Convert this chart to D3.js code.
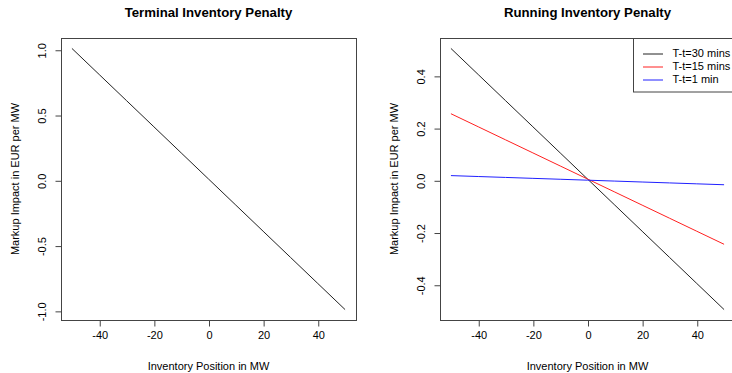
<!DOCTYPE html>
<html>
<head>
<meta charset="utf-8">
<script src="https://cdn.jsdelivr.net/npm/d3@7"></script>
<style>
  html, body { margin: 0; padding: 0; background: #fff; }
  svg { display: block; }
  text { font-family: "Liberation Sans", Arial, sans-serif; fill: #000; }
</style>
</head>
<body>
<svg id="chart" width="732" height="373"></svg>
<script>
// Inventory positions (MW)
const inventory = [-50, -40, -30, -20, -10, 0, 10, 20, 30, 40, 50];

// Terminal penalty: markup impact (EUR per MW)
const terminalImpact = [1.01, 0.81, 0.61, 0.41, 0.21, 0.01, -0.19, -0.39, -0.59, -0.79, -0.99];

// Running penalty by time to delivery
const running30 = [0.505, 0.405, 0.305, 0.205, 0.105, 0.005, -0.095, -0.195, -0.295, -0.395, -0.495];
const running15 = [0.255, 0.205, 0.155, 0.105, 0.055, 0.005, -0.045, -0.095, -0.145, -0.195, -0.245];
const running1  = [0.018, 0.0145, 0.011, 0.0075, 0.004, 0.0005, -0.003, -0.0065, -0.010, -0.0135, -0.017];

const runningLabels = ["T-t=30 mins", "T-t=15 mins", "T-t=1 min"];
const runningColors = ["#222222", "#ff2020", "#2020ff"];

const xTicks = [-40, -20, 0, 20, 40];
const yTicksTerminal = [1.0, 0.5, 0.0, -0.5, -1.0];
const yTicksRunning = [0.4, 0.2, 0.0, -0.2, -0.4];

const titles = ["Terminal Inventory Penalty", "Running Inventory Penalty"];
const xTitle = "Inventory Position in MW";
const yTitle = "Markup Impact in EUR per MW";

const svg = d3.select("#chart");

// R-style axis range: data extent padded by 4% on each side
function padded(extent) {
  const d = extent[1] - extent[0];
  return [extent[0] - 0.04 * d, extent[1] + 0.04 * d];
}

function panel(opts) {
  const { left, right, top, bottom, series, yTicks, title } = opts;
  const g = svg.append("g");

  const allY = series.flatMap(s => s.values);
  const x = d3.scaleLinear().domain(padded(d3.extent(inventory))).range([left, right]);
  const y = d3.scaleLinear().domain(padded(d3.extent(allY))).range([bottom, top]);

  // title
  g.append("text")
    .attr("x", (left + right) / 2).attr("y", 17)
    .attr("text-anchor", "middle")
    .style("font-size", "13.2px").style("font-weight", "bold")
    .text(title);

  // lines
  const line = d3.line().x((d, i) => x(inventory[i])).y(d => y(d));
  series.forEach(s => {
    g.append("path")
      .attr("d", line(s.values))
      .attr("fill", "none")
      .attr("stroke", s.color)
      .attr("stroke-width", 1);
  });

  // plot frame
  g.append("rect")
    .attr("x", left + 0.5).attr("y", top + 0.5)
    .attr("width", right - left).attr("height", bottom - top)
    .attr("fill", "none").attr("stroke", "#444").attr("stroke-width", 1);

  // x axis ticks & labels
  const xAxis = d3.axisBottom(x).tickValues(xTicks).tickSize(6).tickSizeOuter(0)
    .tickFormat(d3.format("d"));
  const xa = g.append("g").attr("transform", `translate(0.5,${bottom + 0.5})`).call(xAxis);
  xa.select(".domain").remove();
  xa.selectAll(".tick line").attr("stroke", "#444");
  xa.selectAll(".tick text")
    .attr("y", 18).attr("dy", null)
    .style("font-size", "11px").style("font-family", "Liberation Sans, Arial, sans-serif")
    .attr("fill", "#000")
    .text(d => d < 0 ? "-" + Math.abs(d) : d);

  // y axis ticks & rotated labels
  const yAxis = d3.axisLeft(y).tickValues(yTicks).tickSize(6).tickSizeOuter(0)
    .tickFormat(d3.format(".1f"));
  const ya = g.append("g").attr("transform", `translate(${left + 0.5},0.5)`).call(yAxis);
  ya.select(".domain").remove();
  ya.selectAll(".tick line").attr("stroke", "#444");
  ya.selectAll(".tick text")
    .attr("x", null).attr("dy", null)
    .attr("text-anchor", "middle")
    .attr("transform", "translate(-15.5,0) rotate(-90)")
    .style("font-size", "11px").style("font-family", "Liberation Sans, Arial, sans-serif")
    .attr("fill", "#000")
    .text(d => (d < 0 ? "-" : "") + d3.format(".1f")(Math.abs(d)));

  // axis titles
  g.append("text")
    .attr("x", (left + right) / 2).attr("y", 370)
    .attr("text-anchor", "middle")
    .style("font-size", "11px")
    .text(xTitle);
  g.append("text")
    .attr("transform", `translate(${left - 42.5},${(top + bottom) / 2}) rotate(-90)`)
    .attr("text-anchor", "middle")
    .style("font-size", "11px")
    .text(yTitle);

  return { g, x, y };
}

panel({
  left: 61, right: 356, top: 38, bottom: 320,
  series: [{ values: terminalImpact, color: runningColors[0] }],
  yTicks: yTicksTerminal, title: titles[0]
});

panel({
  left: 440, right: 735, top: 38, bottom: 320,
  series: [
    { values: running30, color: runningColors[0] },
    { values: running15, color: runningColors[1] },
    { values: running1,  color: runningColors[2] }
  ],
  yTicks: yTicksRunning, title: titles[1]
});

// legend
const lg = svg.append("g");
lg.append("rect")
  .attr("x", 633.5).attr("y", 38.5)
  .attr("width", 110).attr("height", 53.5)
  .attr("fill", "#fff").attr("stroke", "#444").attr("stroke-width", 1);
runningLabels.forEach((lab, i) => {
  const yy = 53 + i * 13;
  lg.append("line")
    .attr("x1", 643).attr("x2", 663)
    .attr("y1", yy + 1).attr("y2", yy + 1)
    .attr("stroke", runningColors[i]).attr("stroke-width", 1);
  lg.append("text")
    .attr("x", 672.5).attr("y", yy + 4)
    .style("font-size", "11px")
    .text(lab);
});
</script>
</body>
</html>
